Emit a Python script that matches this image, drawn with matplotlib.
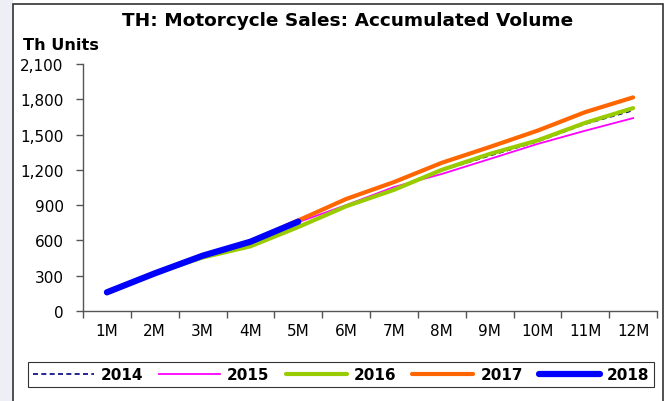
import matplotlib
matplotlib.use("Agg")
import matplotlib.pyplot as plt
from matplotlib.patches import Rectangle
from matplotlib.ticker import FixedLocator, FuncFormatter

plt.rcParams['font.family'] = ['DejaVu Sans']

months = ["1M", "2M", "3M", "4M", "5M", "6M", "7M", "8M", "9M", "10M", "11M", "12M"]
sales_2014 = [150, 315, 450, 560, 720, 890, 1040, 1195, 1320, 1440, 1590, 1705]
sales_2015 = [150, 320, 460, 575, 755, 900, 1054, 1165, 1292, 1420, 1533, 1640]
sales_2016 = [150, 320, 455, 550, 714, 890, 1030, 1200, 1335, 1450, 1600, 1725]
sales_2017 = [155, 320, 470, 590, 770, 952, 1096, 1260, 1394, 1533, 1691, 1816]
sales_2018 = [159, 320, 470, 589, 760]

fig = plt.figure(figsize=(6.69, 4.02), dpi=100)

# Lavender strip on the left margin
fig.patches.append(Rectangle((0, 0), 13 / 669, 1, transform=fig.transFigure,
                             facecolor="#eeeef7", edgecolor="none", zorder=-3))
# Outer chart frame
fig.patches.append(Rectangle((13 / 669, -0.05), (663 - 13) / 669, 1.05 - 5 / 402,
                             transform=fig.transFigure, facecolor="white",
                             edgecolor="#333333", linewidth=1.2, zorder=-2))

ax = fig.add_axes([83 / 669, (402 - 312) / 402, (657 - 83) / 669, (312 - 65) / 402])
ax.set_facecolor("none")

x = list(range(1, len(months) + 1))
ax.plot(x, sales_2014, color="#000080", lw=1.2, ls=(0, (3, 2)), label="2014", zorder=3)
ax.plot(x, sales_2015, color="#ff00ff", lw=1.3, label="2015", zorder=3)
ax.plot(x, sales_2016, color="#99cc00", lw=3.0, label="2016", zorder=3,
        solid_capstyle="round")
ax.plot(x, sales_2017, color="#ff6600", lw=3.0, label="2017", zorder=4,
        solid_capstyle="round")
ax.plot(x[:len(sales_2018)], sales_2018, color="#0000ff", lw=4.5, label="2018",
        zorder=5, solid_capstyle="round")

ax.set_xlim(0.5, 12.5)
ax.set_ylim(0, 2100)
ax.yaxis.set_major_locator(FixedLocator(range(0, 2101, 300)))
ax.yaxis.set_major_formatter(FuncFormatter(lambda v, p: f"{int(v):,}"))
ax.xaxis.set_major_locator(FixedLocator([i + 0.5 for i in range(0, 13)]))
ax.xaxis.set_major_formatter(FuncFormatter(lambda v, p: ""))
ax.xaxis.set_minor_locator(FixedLocator(x))
ax.set_xticklabels(months, minor=True)
ax.tick_params(axis="x", which="minor", length=0, labelsize=11, pad=8.5, colors="black")
ax.tick_params(axis="x", which="major", length=5, width=1, color="#555555")
ax.tick_params(axis="y", length=5, width=1, color="#555555", labelsize=11, pad=9)

for side in ("top", "right"):
    ax.spines[side].set_visible(False)
for side in ("left", "bottom"):
    ax.spines[side].set_color("#555555")
    ax.spines[side].set_linewidth(1)

fig.text(348 / 669, 1 - 21 / 402, "TH: Motorcycle Sales: Accumulated Volume",
         ha="center", va="center", fontsize=13.3, fontweight="bold")
fig.text(23 / 669, 1 - 46 / 402, "Th Units", ha="left", va="center",
         fontsize=11.6, fontweight="bold")

leg = fig.legend(loc="center", bbox_to_anchor=(341 / 669, 1 - 375.5 / 402), ncol=5,
                 frameon=True, fancybox=False, edgecolor="black", handlelength=4.0,
                 handletextpad=0.45, columnspacing=1.05, borderpad=0.3,
                 borderaxespad=0, prop={"weight": "bold", "size": 11})
leg.get_frame().set_linewidth(0.8)

fig.savefig("out.png", dpi=100)
